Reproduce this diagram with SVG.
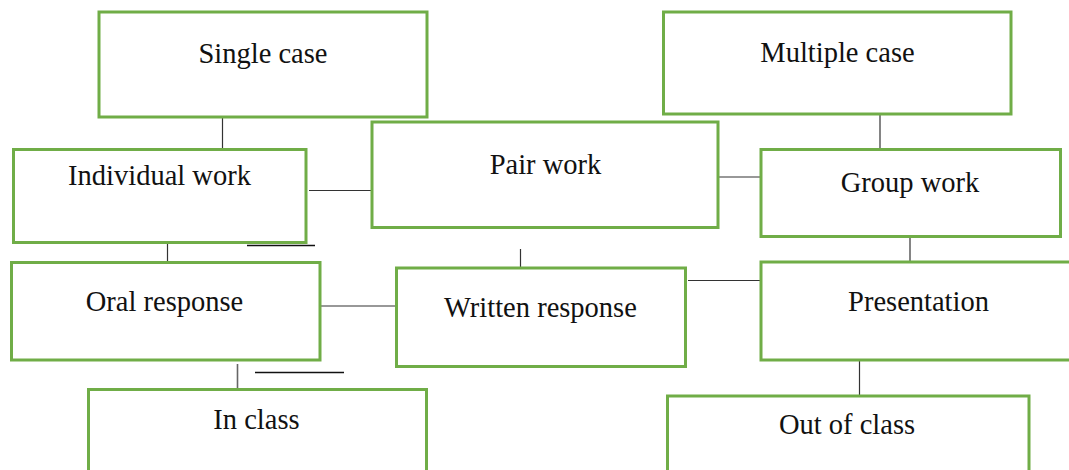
<svg xmlns="http://www.w3.org/2000/svg" width="1069" height="470" viewBox="0 0 1069 470">
<style>
.box{fill:#fff;stroke:#70AD47;stroke-width:3}
.lbl{font-family:"Liberation Serif","Times New Roman",serif;font-size:28.5px;fill:#111;text-anchor:middle}
.c{stroke:#333;stroke-width:1.2;fill:none}
</style>
<rect width="1069" height="470" fill="#fff"/>
<g id="connectors">
<line class="c" x1="222.5" y1="117" x2="222.5" y2="149"/>
<line class="c" x1="309" y1="190.5" x2="371" y2="190.5"/>
<line class="c" x1="718" y1="177" x2="760" y2="177"/>
<line class="c" x1="880" y1="114" x2="880" y2="149"/>
<line class="c" x1="910" y1="237" x2="910" y2="261"/>
<line class="c" x1="520.5" y1="249" x2="520.5" y2="268"/>
<line class="c" x1="688" y1="280.5" x2="761" y2="280.5"/>
<line class="c" x1="315" y1="306" x2="396" y2="306"/>
<line class="c" x1="167.5" y1="243" x2="167.5" y2="262"/>
<line class="c" x1="247" y1="245.5" x2="315" y2="245.5" style="stroke:#111;stroke-width:1.6"/>
<line class="c" x1="237.5" y1="364" x2="237.5" y2="389" style="stroke:#666;stroke-width:1.6"/>
<line class="c" x1="255" y1="372.5" x2="344" y2="372.5" style="stroke:#111;stroke-width:1.6"/>
<line class="c" x1="859.5" y1="360" x2="859.5" y2="396"/>
</g>
<g id="single-case"><rect class="box" x="99" y="12" width="328" height="105"/><text class="lbl" x="263" y="63">Single case</text></g>
<g id="multiple-case"><rect class="box" x="663.5" y="12" width="347.5" height="102"/><text class="lbl" x="837.5" y="62">Multiple case</text></g>
<g id="individual-work"><rect class="box" x="13.5" y="149.5" width="292.5" height="93"/><text class="lbl" x="159.5" y="185">Individual work</text></g>
<g id="pair-work"><rect class="box" x="372" y="122" width="346" height="105.5"/><text class="lbl" x="545.5" y="173.5">Pair work</text></g>
<g id="group-work"><rect class="box" x="761" y="149.5" width="299.5" height="87"/><text class="lbl" x="910" y="192">Group work</text></g>
<g id="oral-response"><rect class="box" x="11.5" y="262.5" width="308.5" height="97.5"/><text class="lbl" x="164.5" y="311">Oral response</text></g>
<g id="written-response"><rect class="box" x="396.5" y="268" width="289" height="98.5"/><text class="lbl" x="540.5" y="317">Written response</text></g>
<g id="presentation"><rect class="box" x="761" y="262" width="320" height="98"/><text class="lbl" x="918.5" y="311">Presentation</text></g>
<g id="in-class"><rect class="box" x="88.5" y="389.5" width="338" height="100"/><text class="lbl" x="256.5" y="428.5">In class</text></g>
<g id="out-of-class"><rect class="box" x="667.5" y="396" width="361.5" height="100"/><text class="lbl" x="847" y="434">Out of class</text></g>
</svg>
